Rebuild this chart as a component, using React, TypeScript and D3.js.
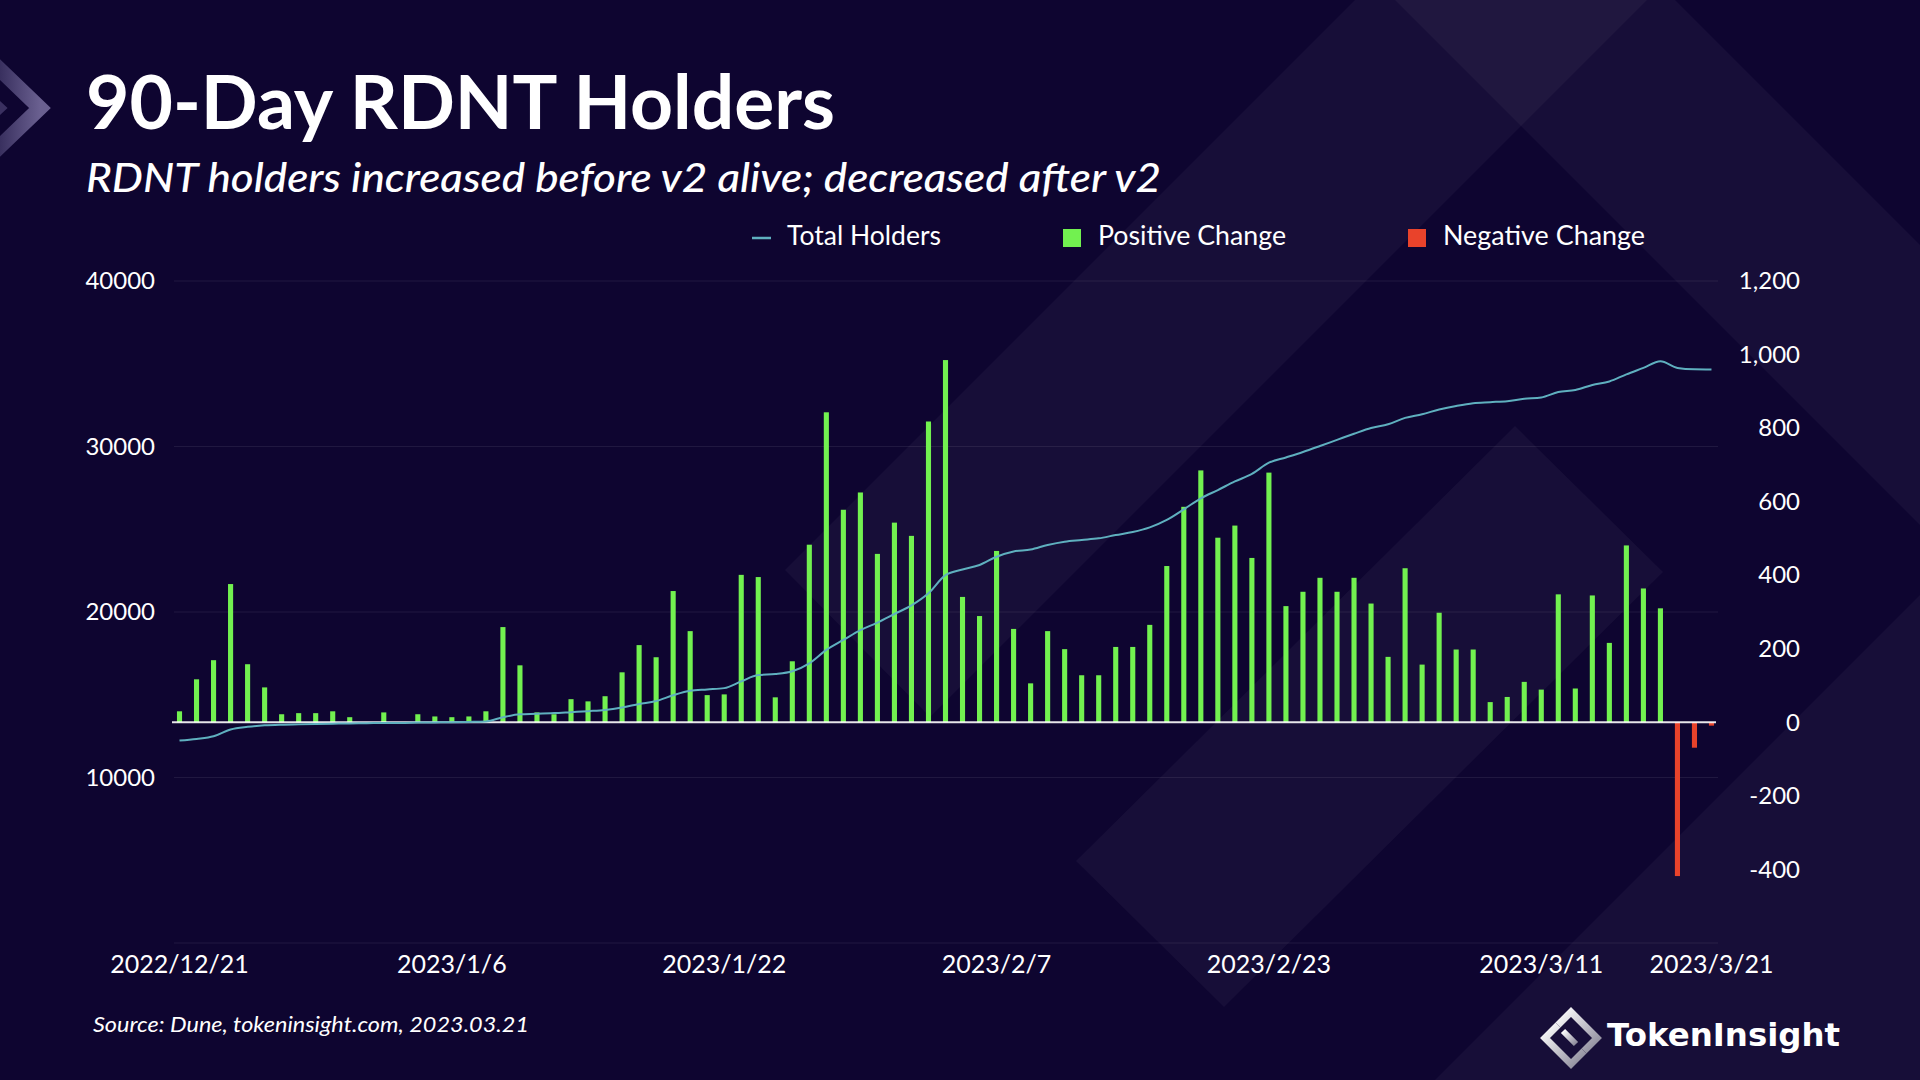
import React, { useEffect, useRef } from 'react';
import * as d3 from 'd3';

// 91 days, 2022/12/21 .. 2023/3/21
const dates = d3.timeDay
  .range(new Date(2022, 11, 21), new Date(2023, 2, 22))
  .map((d) => d3.timeFormat('%Y/%-m/%-d')(d));

const tickLabels = ['2022/12/21', '2023/1/6', '2023/1/22', '2023/2/7', '2023/2/23', '2023/3/11', '2023/3/21'];

// daily change in holders (right axis)
const dailyChange = [
  30, 117, 169, 376, 158, 95, 22, 25, 25, 30,
  14, 0, 27, 0, 22, 16, 14, 16, 30, 259,
  155, 27, 22, 63, 57, 71, 136, 210, 177, 357,
  248, 74, 76, 401, 395, 68, 166, 483, 843, 578,
  625, 458, 543, 507, 818, 985, 341, 289, 466, 254,
  106, 248, 199, 128, 128, 205, 205, 265, 425, 586,
  685, 502, 535, 447, 679, 316, 355, 393, 355, 393,
  323, 178, 419, 157, 298, 198, 198, 55, 69, 110,
  89, 348, 92, 345, 216, 481, 364, 310, -418, -69,
  -9,
];

// total holders (left axis)
const totalHolders = [
  12230, 12330, 12490, 12900, 13060, 13150, 13190, 13210, 13230, 13250,
  13270, 13280, 13300, 13300, 13320, 13330, 13340, 13360, 13390, 13640,
  13820, 13850, 13890, 13950, 14010, 14080, 14230, 14440, 14620, 14970,
  15240, 15320, 15400, 15810, 16190, 16250, 16420, 16900, 17710, 18310,
  18910, 19360, 19880, 20400, 21130, 22230, 22570, 22840, 23340, 23660,
  23770, 24050, 24250, 24350, 24450, 24650, 24830, 25110, 25560, 26200,
  26870, 27370, 27890, 28340, 29020, 29340, 29670, 30030, 30400, 30770,
  31120, 31340, 31730, 31950, 32230, 32450, 32620, 32680, 32740, 32880,
  32960, 33290, 33410, 33720, 33930, 34360, 34750, 35150, 34750, 34670,
  34660,
];

const leftTicks = [10000, 20000, 30000, 40000];
const gridTicks = [0, 10000, 20000, 30000, 40000];
const rightTicks = [-400, -200, 0, 200, 400, 600, 800, 1000, 1200];

const legendItems = [
  { label: 'Total Holders', kind: 'line', color: '#5fb0bf' },
  { label: 'Positive Change', kind: 'rect', color: '#72f150' },
  { label: 'Negative Change', kind: 'rect', color: '#e9432b' },
];

const FONT = 'Lato, "Noto Sans", sans-serif';

export default function App() {
  const svgRef = useRef<SVGSVGElement>(null);

  useEffect(() => {
    if (!svgRef.current) return;
    const svg = d3.select(svgRef.current);
    svg.selectAll('*').remove();

    const left = 171;
    const right = 1720;
    const top = 281;
    const bottom = 943;

    // background
    svg.append('rect').attr('width', 1920).attr('height', 1080).attr('fill', '#0e0530');

    const deco = svg.append('g').attr('fill', '#ffffff').attr('fill-opacity', 0.04);
    const polys = [
      [[785, 570], [1355, 0], [1647, 0], [930, 717]],
      [[1515, 426], [1663, 572], [1224, 1007], [1076, 861]],
      [[1395, 0], [1675, 0], [1920, 245], [1920, 525]],
      [[1920, 595], [1920, 1080], [1435, 1080]],
    ];
    polys.forEach((p) => {
      deco.append('polygon').attr('points', p.map((q) => q.join(',')).join(' '));
    });

    const defs = svg.append('defs');
    const chev = defs.append('linearGradient').attr('id', 'chev').attr('x1', '0').attr('x2', '1');
    chev.append('stop').attr('offset', '0%').attr('stop-color', '#2a2150');
    chev.append('stop').attr('offset', '100%').attr('stop-color', '#6a6090');
    const logoGrad = defs
      .append('linearGradient')
      .attr('id', 'logoGrad')
      .attr('x1', '0')
      .attr('y1', '0')
      .attr('x2', '1')
      .attr('y2', '1');
    logoGrad.append('stop').attr('offset', '0%').attr('stop-color', '#ffffff');
    logoGrad.append('stop').attr('offset', '100%').attr('stop-color', '#8a8798');

    // top-left chevron decoration
    svg
      .append('polyline')
      .attr('points', '-12,58 40,108 -12,158')
      .attr('fill', 'none')
      .attr('stroke', 'url(#chev)')
      .attr('stroke-width', 15);
    svg
      .append('polyline')
      .attr('points', '-14,94 1,108 -14,122')
      .attr('fill', 'none')
      .attr('stroke', '#3a3060')
      .attr('stroke-width', 9);

    // titles
    svg
      .append('text')
      .attr('x', 86)
      .attr('y', 129)
      .attr('fill', '#ffffff')
      .style('font-family', FONT)
      .style('font-size', '74px')
      .style('font-weight', 700)
      .attr('textLength', 749)
      .attr('lengthAdjust', 'spacingAndGlyphs')
      .text('90-Day RDNT Holders');

    svg
      .append('text')
      .attr('x', 86)
      .attr('y', 192)
      .attr('fill', '#ffffff')
      .style('font-family', FONT)
      .style('font-size', '41px')
      .style('font-style', 'italic')
      .style('font-weight', 500)
      .attr('textLength', 1075)
      .attr('lengthAdjust', 'spacingAndGlyphs')
      .text('RDNT holders increased before v2 alive; decreased after v2');

    // legend
    const legendX = [752, 1063, 1408];
    const legendW = [154, 188, 202];
    const legend = svg.append('g');
    legendItems.forEach((item, i) => {
      const x0 = legendX[i];
      if (item.kind === 'line') {
        legend
          .append('line')
          .attr('x1', x0)
          .attr('x2', x0 + 19)
          .attr('y1', 238)
          .attr('y2', 238)
          .attr('stroke', item.color)
          .attr('stroke-width', 2.5);
      } else {
        legend.append('rect').attr('x', x0).attr('y', 229).attr('width', 18).attr('height', 18).attr('fill', item.color);
      }
      legend
        .append('text')
        .attr('x', x0 + 35)
        .attr('y', 245)
        .attr('fill', '#ffffff')
        .style('font-family', FONT)
        .style('font-size', '26px')
        .attr('textLength', legendW[i])
        .attr('lengthAdjust', 'spacingAndGlyphs')
        .text(item.label);
    });

    // scales
    const x = d3.scaleBand<string>().domain(dates).range([left, right]).paddingInner(0.7).paddingOuter(0.35);
    const yLeft = d3.scaleLinear().domain([0, 40000]).range([bottom, top]);
    const yRight = d3.scaleLinear().domain([-600, 1200]).range([bottom, top]);

    const g = svg.append('g');

    // grid lines
    g.selectAll('.grid')
      .data(gridTicks)
      .enter()
      .append('line')
      .attr('x1', 174)
      .attr('x2', 1718)
      .attr('y1', (d) => yLeft(d))
      .attr('y2', (d) => yLeft(d))
      .attr('stroke', '#ffffff')
      .attr('stroke-opacity', 0.08)
      .attr('stroke-width', 1);

    // bars
    g.selectAll('.bar')
      .data(dailyChange)
      .enter()
      .append('rect')
      .attr('x', (_, i) => x(dates[i]) as number)
      .attr('width', x.bandwidth())
      .attr('y', (d) => yRight(Math.max(0, d)))
      .attr('height', (d) => Math.abs(yRight(d) - yRight(0)))
      .attr('fill', (d) => (d >= 0 ? '#72f150' : '#e9432b'));

    // zero line
    g.append('line')
      .attr('x1', 172)
      .attr('x2', 1716)
      .attr('y1', yRight(0))
      .attr('y2', yRight(0))
      .attr('stroke', '#ffffff')
      .attr('stroke-opacity', 0.9)
      .attr('stroke-width', 2);

    // total holders line
    const line = d3
      .line<number>()
      .x((_, i) => (x(dates[i]) as number) + x.bandwidth() / 2)
      .y((d) => yLeft(d))
      .curve(d3.curveMonotoneX);

    g.append('path')
      .datum(totalHolders)
      .attr('d', line)
      .attr('fill', 'none')
      .attr('stroke', '#5fb0bf')
      .attr('stroke-width', 2);

    // axes
    const axisLeft = g
      .append('g')
      .attr('transform', `translate(174,0)`)
      .call(d3.axisLeft(yLeft).tickValues(leftTicks).tickSize(0).tickPadding(19).tickFormat(d3.format('d')));
    axisLeft.select('.domain').remove();
    axisLeft
      .selectAll('text')
      .attr('fill', '#ffffff')
      .style('font-family', FONT)
      .style('font-size', '24px');

    const fmtRight = (d: d3.NumberValue) => d3.format(',')(d).replace('\u2212', '-');
    const axisRight = g
      .append('g')
      .attr('transform', `translate(1800,0)`)
      .call(d3.axisRight(yRight).tickValues(rightTicks).tickSize(0).tickFormat(fmtRight));
    axisRight.select('.domain').remove();
    axisRight
      .selectAll('text')
      .attr('x', 0)
      .attr('text-anchor', 'end')
      .attr('fill', '#ffffff')
      .style('font-family', FONT)
      .style('font-size', '24px');

    const axisBottom = g
      .append('g')
      .attr('transform', `translate(0,${bottom})`)
      .call(d3.axisBottom(x).tickValues(tickLabels).tickSize(0).tickPadding(12));
    axisBottom.select('.domain').remove();
    axisBottom
      .selectAll('text')
      .attr('fill', '#ffffff')
      .style('font-family', FONT)
      .style('font-size', '25px');

    // source
    svg
      .append('text')
      .attr('x', 93)
      .attr('y', 1032)
      .attr('fill', '#ffffff')
      .style('font-family', FONT)
      .style('font-size', '21px')
      .style('font-style', 'italic')
      .attr('textLength', 436)
      .attr('lengthAdjust', 'spacingAndGlyphs')
      .text('Source: Dune, tokeninsight.com, 2023.03.21');

    // TokenInsight logo
    const logo = svg.append('g').attr('fill', 'none').attr('stroke', 'url(#logoGrad)').attr('stroke-width', 7);
    logo.append('path').attr('d', 'M1558,1025 L1571,1012 L1597,1038 L1584,1051');
    logo.append('path').attr('d', 'M1584,1051 L1571,1064 L1545,1038 L1558,1025');
    logo.append('path').attr('d', 'M1563,1031 L1576,1044').attr('stroke-width', 6);
    svg
      .append('text')
      .attr('x', 1607)
      .attr('y', 1046)
      .attr('fill', '#ffffff')
      .style('font-family', '"DejaVu Sans", sans-serif')
      .style('font-size', '32px')
      .style('font-weight', 700)
      .attr('textLength', 233)
      .attr('lengthAdjust', 'spacingAndGlyphs')
      .text('TokenInsight');
  }, []);

  return (
    <svg
      ref={svgRef}
      width={1920}
      height={1080}
      style={{ position: 'absolute', left: 0, top: 0, display: 'block' }}
    ></svg>
  );
}
